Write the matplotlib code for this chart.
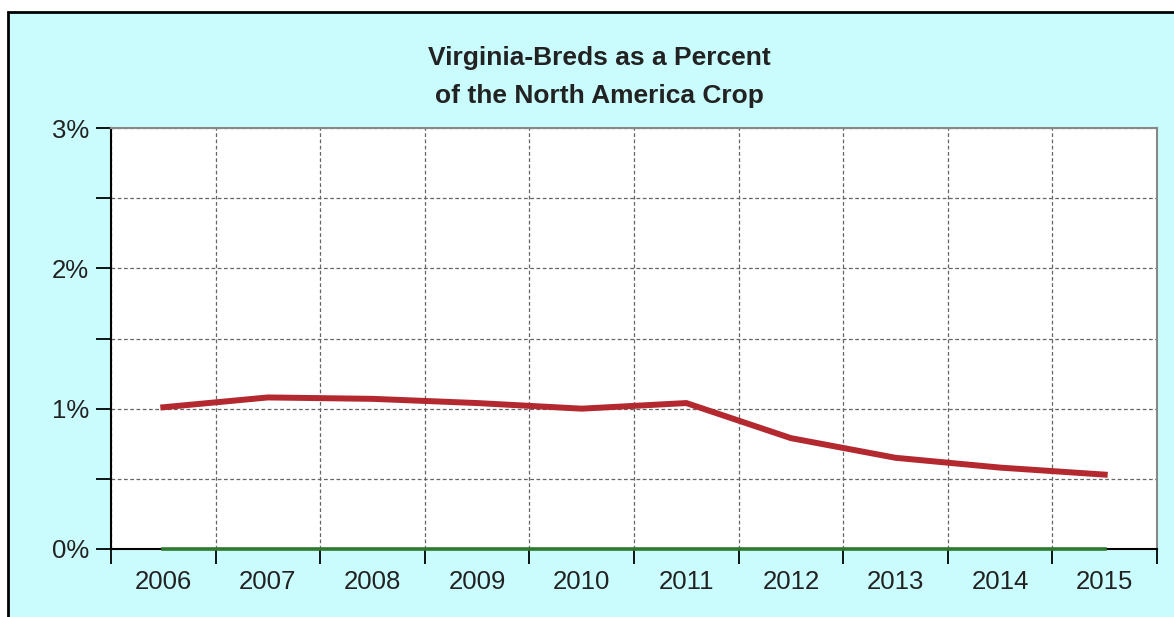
import matplotlib.pyplot as plt
from matplotlib.patches import Rectangle
from matplotlib.ticker import FixedLocator, FuncFormatter

years = ['2006', '2007', '2008', '2009', '2010', '2011', '2012', '2013', '2014', '2015']
va_pct = [1.01, 1.08, 1.07, 1.04, 1.00, 1.04, 0.79, 0.65, 0.58, 0.53]
other_pct = [0, 0, 0, 0, 0, 0, 0, 0, 0, 0]

plt.rcParams['font.family'] = ['Liberation Sans', 'DejaVu Sans']

W, H = 1174, 617
fig = plt.figure(figsize=(W / 100, H / 100), dpi=100)
fig.patch.set_facecolor('white')

# outer cyan panel with black border (top and left visible)
fig.patches.append(Rectangle((8 / W, -0.05), 1.2, 1 - 12 / H + 0.05,
                             transform=fig.transFigure, facecolor='#cafcfd',
                             edgecolor='black', linewidth=2, zorder=-10))

ax = fig.add_axes([111 / W, 1 - 549 / H, (1157 - 111) / W, (549 - 128) / H])
ax.set_facecolor('white')

x = list(range(len(years)))
ax.plot(x, other_pct, color='#2f7a2f', linewidth=2.6, zorder=3, clip_on=False)
ax.plot(x, va_pct, color='#b3292f', linewidth=4.3, zorder=4)

ax.set_xlim(-0.5, len(years) - 0.5)
ax.set_ylim(0, 3)

# category boundaries as ticks/grid, labels centred
ax.xaxis.set_major_locator(FixedLocator([i - 0.5 for i in range(len(years) + 1)]))
ax.xaxis.set_major_formatter(FuncFormatter(lambda v, p: ''))
ax.xaxis.set_minor_locator(FixedLocator(x))
ax.set_xticklabels(years, minor=True)
ax.tick_params(axis='x', which='major', direction='out', length=11, width=1.3, color='black')
ax.tick_params(axis='x', which='minor', length=0, labelsize=18.5, pad=15, labelcolor='#222222')

ax.set_yticks([0, 0.5, 1, 1.5, 2, 2.5, 3])
ax.set_yticklabels(['0%', '', '1%', '', '2%', '', '3%'])
ax.tick_params(axis='y', direction='out', length=11, width=1.3, color='black',
               labelsize=18.5, pad=5, labelcolor='#222222')

ax.grid(True, which='major', color='#666666', linestyle=(0, (3, 2)), linewidth=0.9)
ax.set_axisbelow(True)

ax.spines['left'].set_color('black')
ax.spines['left'].set_linewidth(1.5)
ax.spines['bottom'].set_color('black')
ax.spines['bottom'].set_linewidth(1.5)
ax.spines['top'].set_color('#888888')
ax.spines['top'].set_linewidth(1.5)
ax.spines['right'].set_color('#888888')
ax.spines['right'].set_linewidth(1.5)

fig.text(599 / W, 1 - 77 / H, 'Virginia-Breds as a Percent\nof the North America Crop',
         ha='center', va='center', fontsize=19, fontweight='bold', color='#222222',
         linespacing=1.7)

fig.savefig('out.png', dpi=100)
